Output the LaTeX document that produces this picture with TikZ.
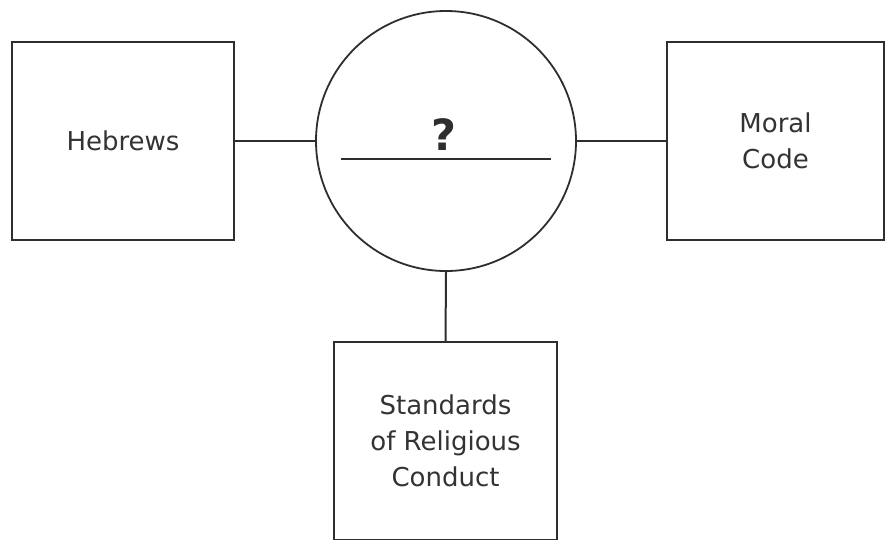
\documentclass[tikz,border=0pt]{standalone}
\usepackage{fontspec}
\setmainfont{DejaVu Sans}
\begin{document}
\begin{tikzpicture}[x=1pt,y=-1pt,
  box/.style={draw=linegray, line width=2pt, inner sep=0pt, minimum height=198pt,
    align=center, text=textgray, font=\fontsize{26}{36}\selectfont},
  hub/.style={draw=linegray, line width=1.8pt, circle, inner sep=0pt, minimum size=260pt},
  link/.style={draw=linegray, line width=2pt}]
\definecolor{linegray}{HTML}{2E2E2E}
\definecolor{textgray}{HTML}{333333}
\useasboundingbox (0,0) rectangle (885,539);
\node[box, minimum width=222pt] (hebrews) at (123,141) {Hebrews};
\node[hub] (c) at (446,141) {};
\node[box, minimum width=217pt] (moral) at (775.5,141) {Moral\\Code};
\node[box, minimum width=223pt] (standards) at (445.5,441) {Standards\\of Religious\\Conduct};
\node[text=linegray, font=\fontsize{43}{43}\bfseries\selectfont, inner sep=0pt] (q) at (444,135) {?};
\coordinate (la) at (341,159);
\coordinate (lb) at (551,159);
\draw[link] (la) -- (lb);
\draw[link] (hebrews.east) -- (c.west);
\draw[link] (c.east) -- (moral.west);
\draw[link] (c.south) -- (standards.north);
\end{tikzpicture}
\end{document}
